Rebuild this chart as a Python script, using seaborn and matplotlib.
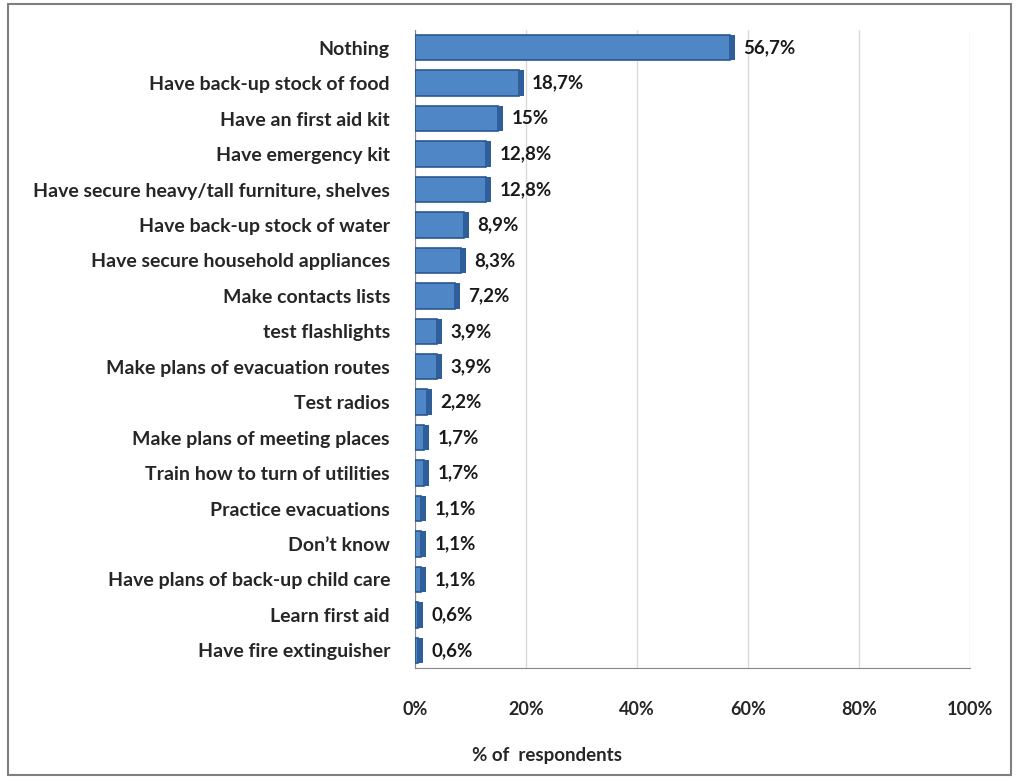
import numpy as np
import pandas as pd
import matplotlib
matplotlib.use("Agg")
import matplotlib.pyplot as plt
import seaborn as sns
from matplotlib.patches import Rectangle

actions = [
    "Nothing",
    "Have back-up stock of food",
    "Have an first aid kit",
    "Have emergency kit",
    "Have secure heavy/tall furniture, shelves",
    "Have back-up stock of water",
    "Have secure household appliances",
    "Make contacts lists",
    "test flashlights",
    "Make plans of evacuation routes",
    "Test radios",
    "Make plans of meeting places",
    "Train how to turn of utilities",
    "Practice evacuations",
    "Don\u2019t know",
    "Have plans of back-up child care",
    "Learn first aid",
    "Have fire extinguisher",
]
shares = [56.7, 18.7, 15, 12.8, 12.8, 8.9, 8.3, 7.2, 3.9, 3.9, 2.2, 1.7, 1.7, 1.1, 1.1, 1.1, 0.6, 0.6]
share_labels = ["56,7%", "18,7%", "15%", "12,8%", "12,8%", "8,9%", "8,3%", "7,2%", "3,9%",
                "3,9%", "2,2%", "1,7%", "1,7%", "1,1%", "1,1%", "1,1%", "0,6%", "0,6%"]
x_ticks = [0, 20, 40, 60, 80, 100]

df = pd.DataFrame({"action": actions, "share": shares})

sns.set_style("white")
plt.rcParams["font.family"] = ["Lato", "DejaVu Sans"]

fig = plt.figure(figsize=(10.16, 7.81), dpi=100)
ax = fig.add_axes([415 / 1016, 1 - 668 / 781, 555 / 1016, (668 - 30) / 781])

# outer frame
fig.patches.append(Rectangle((8 / 1016, 6 / 781), 1003 / 1016, 771 / 781, transform=fig.transFigure,
                             fill=False, edgecolor="#7f7f7f", linewidth=1.5))

sns.barplot(data=df, y="action", x="share", orient="h", color="#4f86c6", saturation=1,
            edgecolor="#2b568f", linewidth=1.2, width=0.72, ax=ax, zorder=3)

# depth face on the bar ends for a bit of the 3D look
for patch in ax.patches:
    x0, y0 = patch.get_x() + patch.get_width(), patch.get_y()
    ax.add_patch(Rectangle((x0, y0), 0.9, patch.get_height(), facecolor="#2f5f9a",
                           edgecolor="none", zorder=3))

for i, (v, lab) in enumerate(zip(shares, share_labels)):
    ax.text(v + 2.4, i, lab, va="center", ha="left", fontsize=13.5, fontweight="bold", color="#1a1a1a")

ax.set_xlim(0, 100)
ax.set_xticks(x_ticks)
ax.set_xticklabels([f"{t}%" for t in x_ticks], fontsize=13, fontweight="bold")
ax.tick_params(axis="x", pad=20, length=4, color="#888888")
ax.tick_params(axis="y", length=4, color="#888888", pad=14)
for lab in ax.get_yticklabels():
    lab.set_fontsize(14)
    lab.set_fontweight("bold")
ax.xaxis.grid(True, color="#d9d9d9", linewidth=1)
ax.set_axisbelow(True)
ax.set_ylabel("")
ax.set_xlabel("")
for s in ["top", "right"]:
    ax.spines[s].set_visible(False)
ax.spines["left"].set_color("#888888")
ax.spines["bottom"].set_color("#888888")

fig.text(547 / 1016, 1 - 755 / 781, "% of  respondents", ha="center", va="center",
         fontsize=13.5, fontweight="bold")

fig.savefig("out.png", dpi=100)
